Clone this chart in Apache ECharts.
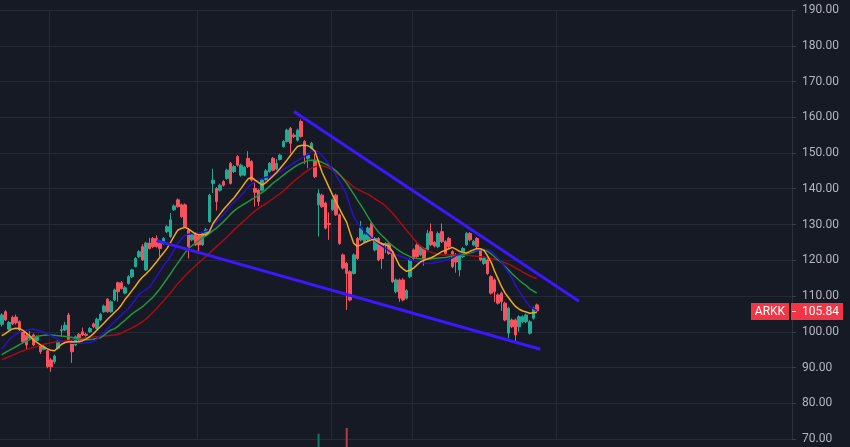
<!DOCTYPE html>
<html>
<head>
<meta charset="utf-8">
<script src="https://cdn.jsdelivr.net/npm/echarts@6/dist/echarts.min.js"></script>
<style>
html,body{margin:0;padding:0;background:#161a25;}
#c{width:850px;height:447px;}
</style>
</head>
<body>
<div id="c"></div>
<script>
// ---- Data (ARKK daily) ----
const ticker = 'ARKK';
const opens = [102.1,105.6,100.7,104.0,104.1,102.8,100.0,99.0,98.2,99.1,97.6,96.0,95.1,94.7,92.1,91.6,95.4,100.3,100.5,104.7,97.2,96.3,99.3,100.0,99.3,100.0,102.2,100.9,103.3,105.6,109.1,105.6,108.9,113.7,113.7,110.8,113.5,115.4,118.2,121.0,123.8,117.3,124.8,126.1,126.1,124.7,124.7,128.0,126.6,134.1,136.9,135.5,135.5,128.5,125.7,127.5,126.8,124.3,127.1,130.8,141.5,140.1,139.6,142.0,142.9,147.1,144.8,149.0,143.8,143.8,148.5,147.6,140.1,139.6,139.6,142.6,144.8,148.5,145.5,148.2,151.8,153.2,156.9,155.0,153.6,158.8,153.2,148.5,151.3,148.0,135.5,138.2,136.0,130.3,134.1,138.2,132.7,121.5,119.1,116.8,116.3,126.1,125.7,125.2,125.7,130.3,122.9,126.1,124.7,124.3,124.7,122.4,111.2,114.5,114.5,109.4,115.4,122.9,124.3,121.5,123.3,122.9,128.0,125.0,123.8,128.0,125.2,126.1,122.4,121.5,117.3,121.0,124.3,127.5,124.3,126.1,122.9,119.1,120.1,115.4,114.5,110.3,110.8,108.0,99.6,103.3,103.3,101.4,102.8,102.8,99.6,103.8,107.5];
const closes = [104.7,103.3,102.6,102.2,102.5,100.5,97.2,96.3,98.7,96.3,98.5,94.4,95.8,90.2,90.2,93.2,97.2,100.6,101.8,97.6,94.4,98.6,97.7,99.1,99.0,100.9,101.4,103.5,104.9,107.2,105.6,108.4,111.7,111.2,112.1,112.3,115.4,117.3,120.5,122.4,120.1,124.8,123.3,123.8,123.8,123.3,126.1,129.4,131.3,135.2,135.0,132.2,129.4,123.8,127.1,124.3,124.3,127.5,128.5,138.2,142.4,136.4,141.0,141.0,145.2,141.5,146.2,146.6,146.6,146.0,146.2,142.4,139.0,136.4,142.4,145.0,147.1,145.2,147.1,149.4,153.2,156.4,152.7,154.6,156.4,154.6,149.4,149.4,152.7,143.4,138.7,135.0,129.0,130.0,136.9,132.7,124.7,117.8,116.3,108.9,121.5,120.5,129.0,127.1,129.0,126.1,126.1,120.1,120.5,124.7,121.9,114.0,114.5,109.4,108.9,111.5,120.1,120.5,121.0,123.8,120.5,127.5,124.3,124.0,127.5,125.2,121.9,123.8,118.2,119.5,121.5,123.3,127.5,125.7,125.3,123.8,120.1,120.5,116.3,110.8,111.2,108.0,108.4,103.3,106.6,101.4,99.1,104.2,104.2,104.7,102.8,106.6,105.84];
const lows = [101.5,103.0,100.3,101.8,102.0,100.2,96.8,94.9,97.8,96.0,97.2,93.8,94.8,89.8,88.8,91.0,95.0,98.6,100.2,97.3,91.3,96.0,97.3,98.8,98.6,99.7,101.0,100.6,103.0,105.3,105.3,105.3,108.6,108.4,111.8,110.5,113.2,115.0,118.0,120.6,119.8,117.0,123.0,123.4,123.5,121.0,124.4,127.6,126.3,133.8,134.7,131.9,129.0,120.5,125.3,124.0,121.9,124.0,126.8,130.5,138.8,133.9,139.2,140.6,142.5,141.2,144.4,146.2,143.4,143.5,145.8,142.0,135.0,135.2,139.2,142.2,144.5,144.9,145.2,147.9,151.5,152.9,149.9,154.2,153.2,154.3,146.9,145.7,151.0,143.0,126.6,134.6,128.6,125.7,133.8,132.4,124.3,117.4,106.1,108.5,116.0,120.1,125.3,124.8,125.3,125.7,122.5,119.7,117.6,122.0,121.5,113.6,110.8,108.4,108.5,109.0,115.0,120.1,120.6,121.1,118.5,122.5,124.0,123.6,123.4,124.8,121.5,123.4,117.8,116.5,115.5,120.6,124.0,125.3,123.9,123.4,119.7,118.7,115.9,110.4,108.3,107.6,105.8,102.9,98.2,101.0,96.8,100.0,102.4,102.4,99.2,103.4,105.4];
const highs = [105.2,106.0,103.0,104.5,104.8,103.2,100.3,99.8,100.2,99.5,99.0,96.3,96.3,95.0,92.6,93.6,97.6,101.8,102.8,105.3,97.6,99.0,99.6,101.2,99.7,101.3,102.6,103.9,105.3,107.6,109.4,108.8,112.1,114.0,114.2,112.8,115.8,117.6,120.9,122.8,124.5,125.2,126.3,126.5,127.0,125.2,126.5,129.8,133.2,135.6,137.3,135.9,135.9,129.0,127.6,127.9,127.2,127.9,129.0,138.6,145.6,140.5,141.4,142.4,145.6,147.5,146.6,149.4,147.0,146.4,150.5,148.0,142.5,140.0,142.8,145.5,147.5,148.9,148.3,149.8,153.6,156.8,157.3,155.6,156.8,159.4,153.6,149.9,153.1,149.8,139.9,138.6,136.4,133.4,137.3,138.6,133.1,121.9,119.5,117.2,121.9,126.5,131.0,127.5,129.4,130.7,126.5,126.5,125.1,125.1,125.1,122.8,114.9,114.9,115.0,111.9,120.5,123.3,124.7,124.2,123.7,128.5,130.3,125.4,128.0,130.3,125.6,126.5,122.8,122.0,122.0,123.7,127.9,127.9,125.7,126.5,123.3,120.9,120.5,115.8,114.9,110.7,111.2,108.4,107.0,103.7,103.7,104.6,104.6,105.1,103.2,107.0,107.9];

// Moving averages as drawn on the chart
const maFast = [98.9,99.5,100.2,100.8,101.0,100.9,100.4,99.6,98.8,97.7,97.0,96.3,95.7,95.2,94.8,94.7,95.6,96.5,97.0,97.2,97.2,97.2,97.2,97.5,98.0,98.6,99.4,100.4,101.4,102.4,103.4,104.4,105.4,106.3,107.5,109.0,110.2,111.5,112.8,114.2,115.3,116.2,117.2,118.4,119.6,120.9,122.1,123.4,125.1,126.8,128.4,128.9,129.2,128.8,128.1,127.4,127.1,127.1,127.1,128.0,130.3,131.6,132.9,134.2,135.3,136.4,137.5,138.8,140.1,141.5,142.8,143.2,142.4,141.7,141.0,141.7,142.6,143.5,144.5,145.6,146.8,148.0,149.3,150.6,151.8,152.1,152.2,152.0,151.5,150.4,147.5,144.6,142.5,140.3,138.2,136.2,134.3,132.4,130.6,127.5,124.7,123.9,124.3,124.9,125.3,125.7,125.7,125.1,124.6,124.3,123.9,122.4,120.5,118.5,117.6,116.9,117.2,117.8,118.7,119.6,120.0,120.4,120.7,121.2,121.8,122.4,122.8,123.2,123.6,123.1,122.5,122.2,122.0,122.5,122.9,123.3,123.2,122.8,121.2,119.5,117.0,114.8,112.6,110.8,109.5,108.2,107.0,106.3,105.8,105.5,105.2,105.3,105.4];
const maMid = [95.2,96.4,97.6,98.6,99.3,99.9,100.2,100.4,100.6,100.7,100.5,100.2,99.9,99.4,98.9,98.4,97.9,97.4,97.1,97.0,96.8,96.8,96.8,96.8,96.9,97.0,97.2,97.9,98.9,99.8,100.8,101.8,102.8,103.8,104.7,105.6,106.5,107.7,109.1,110.5,111.2,111.8,112.5,114.0,115.5,117.0,118.5,119.7,121.3,123.0,124.7,126.0,126.8,127.3,127.5,127.5,127.6,127.8,128.1,128.4,129.6,130.7,131.7,132.8,134.0,135.3,136.3,137.2,138.2,139.2,140.4,141.3,142.0,142.5,142.9,143.2,143.4,143.8,144.3,144.8,145.4,146.0,146.6,147.2,147.8,148.5,149.0,149.6,150.5,150.7,150.3,149.3,148.1,146.8,145.2,143.7,142.1,140.2,138.2,135.0,132.2,130.5,129.1,128.1,127.2,126.3,125.5,124.7,124.0,123.3,122.6,122.0,121.6,121.2,120.9,120.5,120.1,119.9,119.6,119.4,119.2,119.1,119.2,119.4,119.5,119.7,120.0,120.3,120.7,121.3,121.7,122.0,122.2,122.4,122.6,122.8,123.0,123.0,123.0,122.7,121.6,120.6,119.4,117.9,116.4,114.9,112.9,111.3,109.8,108.4,107.1,106.5,105.9];
const maSlow = [93.6,94.2,94.7,95.3,95.8,96.4,96.9,97.4,97.8,98.4,98.7,98.9,99.0,99.1,99.1,99.0,98.9,98.8,98.7,98.6,98.4,98.2,98.0,97.8,97.7,97.8,97.9,98.1,98.3,99.0,99.8,100.5,100.8,101.5,102.4,103.2,104.1,105.0,105.7,106.3,107.0,107.9,108.8,109.7,110.9,112.1,113.5,114.9,116.3,117.8,119.2,120.6,122.0,123.3,124.0,124.8,125.5,126.2,126.8,127.5,128.3,129.0,129.9,130.8,131.8,132.9,133.8,134.6,135.2,135.8,136.4,137.0,137.6,138.3,139.0,139.7,140.6,141.5,142.3,143.0,143.8,144.6,145.3,146.0,146.6,147.1,147.5,147.9,148.0,148.0,147.8,147.4,146.9,146.4,145.7,145.0,144.0,142.8,141.5,140.0,138.5,136.9,135.4,133.9,132.2,130.6,129.2,127.9,126.9,126.0,124.9,124.1,123.3,122.6,122.0,121.5,121.0,120.7,120.5,120.4,120.3,120.3,120.4,120.5,120.6,120.7,120.8,121.0,121.1,121.3,121.4,121.6,121.8,122.0,122.3,122.7,123.0,122.9,122.5,121.8,120.9,120.1,119.3,118.3,117.3,116.2,115.3,114.4,113.6,112.9,112.0,111.4,110.8];
const maLong = [92.2,92.6,93.0,93.4,93.8,94.3,94.6,95.0,95.3,95.6,95.9,96.3,96.5,96.7,96.9,97.1,97.2,97.3,97.5,97.6,97.8,97.9,98.1,98.2,98.3,98.4,98.5,98.6,98.7,98.8,98.9,99.0,99.1,99.3,99.6,100.2,100.6,101.1,101.6,102.2,102.8,103.6,104.5,105.5,106.5,107.6,108.7,109.8,111.0,112.2,113.4,114.5,115.6,116.6,117.5,118.4,119.3,120.2,121.1,122.0,122.9,123.8,124.7,125.6,126.5,127.5,128.5,129.4,130.3,131.2,132.1,133.0,133.8,134.5,135.2,135.8,136.5,137.2,137.9,138.6,139.4,140.3,141.2,142.1,142.9,143.7,144.5,145.2,145.8,146.2,146.4,146.4,146.2,145.8,145.2,144.5,143.8,143.0,142.2,141.3,140.5,139.9,139.4,138.9,138.5,137.9,137.2,136.6,136.0,135.2,134.2,133.2,132.0,130.8,129.6,128.4,127.2,126.0,124.9,124.0,123.2,122.7,122.2,121.9,121.7,121.5,121.5,121.5,121.5,121.5,121.5,121.5,121.4,121.3,121.2,121.1,121.0,120.9,120.7,120.5,120.3,120.0,119.7,119.3,118.9,118.4,117.8,117.3,116.7,116.2,115.6,115.2,114.9];

// Trend lines: [day index, price]
const upperTrend = [[83, 161.6], [164, 108.5]];
const lowerTrend = [[44, 125.5], [153, 95.1]];

// Volume (millions): only the two spikes that reach into view
const volumeVisible = {90: 30.0, 98: 34.3};
const volumeFloor = 20; // volume level sitting at the bottom edge of the picture

// Price axis ticks
const yMin = 70, yMax = 190, yStep = 10;
// Days where the chart's vertical time grid lines fall
const timeGridDays = [14, 56, 94, 117, 158];
const totalSlots = 225;

// ---- Build ----
const n = closes.length;
const cats = Array.from({length: totalSlots}, (_, i) => String(i));
const candleData = opens.map((o, i) => [o, closes[i], lows[i], highs[i]]);
const UP = '#22ab94', DOWN = '#f7525f';
const volData = cats.map((c, i) => {
  const v = volumeVisible[i];
  if (v == null) return null;
  return {value: v, itemStyle: {color: closes[i] >= opens[i] ? '#0f7a6b' : '#b33c48'}};
});
const ma = (data, color) => ({
  type: 'line', data: data, symbol: 'none', smooth: false,
  lineStyle: {color: color, width: 1.5}, z: 5, silent: true
});
const trend = (data) => ({
  type: 'line', data: data, symbol: 'none',
  lineStyle: {color: '#3d17ff', width: 3}, z: 6, silent: true
});

const chart = echarts.init(document.getElementById('c'), null, {renderer: 'canvas'});
chart.setOption({
  backgroundColor: '#161a25',
  animation: false,
  grid: [
    {left: 0, right: 58, top: 10, bottom: 8},
    {left: 0, right: 58, top: 257, bottom: 0}
  ],
  xAxis: [
    {type: 'category', data: cats, gridIndex: 0, boundaryGap: true,
     axisLine: {show: false}, axisTick: {show: false}, axisLabel: {show: false},
     splitLine: {show: true, interval: (idx) => timeGridDays.indexOf(idx) >= 0,
                 lineStyle: {color: '#262a36', width: 1}}},
    {type: 'category', data: cats, gridIndex: 1, boundaryGap: true, show: false}
  ],
  yAxis: [
    {type: 'value', gridIndex: 0, position: 'right', min: yMin, max: yMax, interval: yStep,
     axisLine: {show: true, lineStyle: {color: '#2e323e'}},
     axisTick: {show: true, length: 4, lineStyle: {color: '#3a3e4a'}},
     axisLabel: {color: '#b2b5be', fontSize: 12, fontFamily: 'Roboto', margin: 10,
                 formatter: v => v.toFixed(2)},
     splitLine: {show: true, lineStyle: {color: '#262a36', width: 1}}},
    {type: 'value', gridIndex: 1, min: volumeFloor, max: volumeFloor + 143, show: false}
  ],
  series: [
    {type: 'bar', xAxisIndex: 1, yAxisIndex: 1, data: volData, barWidth: 2, silent: true, z: 1, clip: true},
    {type: 'candlestick', data: candleData, barWidth: 3, z: 3, silent: true,
     itemStyle: {color: UP, color0: DOWN, borderColor: UP, borderColor0: DOWN, borderWidth: 1}},
    ma(maLong, '#a80c12'),
    ma(maSlow, '#1f9440'),
    ma(maMid, '#2a10cc'),
    ma(maFast, '#f2a81d'),
    trend(upperTrend),
    trend(lowerTrend)
  ]
});

// Last price tag
const last = closes[n - 1];
const py = chart.convertToPixel({yAxisIndex: 0}, last);
const ax = chart.convertToPixel({xAxisIndex: 0}, cats[totalSlots - 1]) + 3.52 / 2;
chart.setOption({
  graphic: [
    {type: 'rect', shape: {x: ax - 41, y: Math.round(py) - 8, width: 38, height: 17}, style: {fill: '#f23645'}, z: 100},
    {type: 'text', x: ax - 22, y: Math.round(py) + 1, style: {text: ticker, fill: '#ffffff', font: '12px Roboto', align: 'center', verticalAlign: 'middle'}, z: 101},
    {type: 'rect', shape: {x: ax - 1, y: Math.round(py) - 8, width: 52, height: 17}, style: {fill: '#f23645'}, z: 100},
    {type: 'line', shape: {x1: ax, y1: Math.round(py) + 0.5, x2: ax + 4, y2: Math.round(py) + 0.5}, style: {stroke: '#ffffff', lineWidth: 1}, z: 101},
    {type: 'text', x: ax + 10, y: Math.round(py) + 1, style: {text: last.toFixed(2), fill: '#ffffff', font: '12px Roboto', align: 'left', verticalAlign: 'middle'}, z: 101}
  ]
});
</script>
</body>
</html>
